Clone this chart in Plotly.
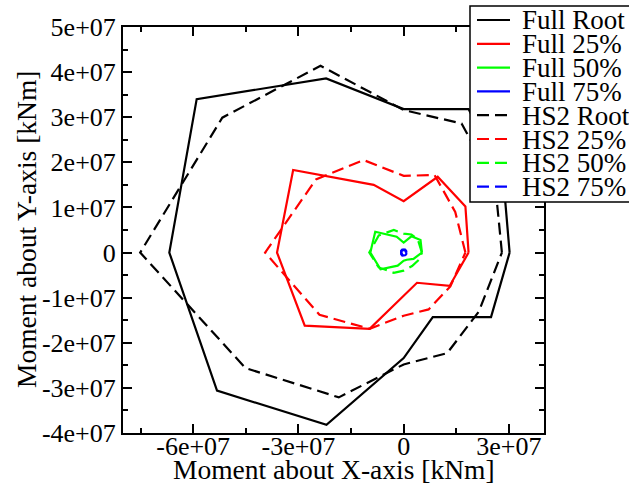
import plotly.graph_objects as go

# Bending-moment envelopes (kNm) at 12 load directions, 0° to 330° in 30° steps
full_root_x = [3.02e7, 2.84e7, 1.85e7, 0.0, -2.21e7, -5.90e7, -6.68e7, -5.32e7, -2.20e7, 0.0, 0.83e7, 2.49e7]
full_root_y = [0.0, 1.64e7, 3.18e7, 3.18e7, 3.86e7, 3.40e7, 0.0, -3.06e7, -3.82e7, -2.34e7, -1.43e7, -1.43e7]

full_25_x = [1.85e7, 1.76e7, 0.97e7, 0.0, -0.855e7, -3.15e7, -3.61e7, -2.82e7, -0.97e7, 0.0, 0.38e7, 1.31e7]
full_25_y = [0.0, 1.02e7, 1.68e7, 1.14e7, 1.50e7, 1.83e7, 0.0, -1.62e7, -1.69e7, -0.97e7, -0.67e7, -0.74e7]

full_50_x = [0.52e7, 0.48e7, 0.22e7, 0.0, -0.20e7, -0.81e7, -0.95e7, -0.66e7, -0.17e7, 0.0, 0.09e7, 0.28e7]
full_50_y = [0.0, 0.28e7, 0.36e7, 0.22e7, 0.35e7, 0.46e7, 0.0, -0.37e7, -0.29e7, -0.18e7, -0.16e7, -0.14e7]

full_75_x = [0.80e6, 0.70e6, 0.40e6, 0.0, -0.40e6, -0.70e6, -0.80e6, -0.70e6, -0.40e6, 0.0, 0.40e6, 0.70e6]
full_75_y = [0.0, 0.40e6, 0.65e6, 0.70e6, 0.65e6, 0.40e6, 0.0, -0.40e6, -0.65e6, -0.65e6, -0.60e6, -0.40e6]

hs2_root_x = [2.80e7, 2.61e7, 1.65e7, 0.0, -2.37e7, -5.17e7, -7.51e7, -4.51e7, -1.85e7, 0.0, 1.24e7, 2.14e7]
hs2_root_y = [0.0, 1.50e7, 2.86e7, 3.16e7, 4.14e7, 2.99e7, 0.0, -2.56e7, -3.21e7, -2.48e7, -2.23e7, -1.31e7]

hs2_25_x = [1.76e7, 1.47e7, 0.88e7, 0.0, -1.14e7, -2.50e7, -3.95e7, -2.40e7, -0.97e7, 0.0, 0.71e7, 1.33e7]
hs2_25_y = [0.0, 0.90e7, 1.72e7, 1.70e7, 2.05e7, 1.62e7, 0.0, -1.38e7, -1.69e7, -1.40e7, -1.26e7, -0.75e7]

hs2_50_x = [0.52e7, 0.40e7, 0.22e7, 0.0, -0.28e7, -0.71e7, -0.98e7, -0.71e7, -0.28e7, 0.0, 0.24e7, 0.45e7]
hs2_50_y = [0.0, 0.30e7, 0.40e7, 0.42e7, 0.50e7, 0.38e7, 0.0, -0.33e7, -0.45e7, -0.40e7, -0.30e7, -0.15e7]

hs2_75_x = [0.70e6, 0.60e6, 0.35e6, 0.0, -0.35e6, -0.60e6, -0.70e6, -0.60e6, -0.35e6, 0.0, 0.35e6, 0.60e6]
hs2_75_y = [0.0, 0.35e6, 0.55e6, 0.60e6, 0.55e6, 0.35e6, 0.0, -0.35e6, -0.55e6, -0.60e6, -0.55e6, -0.35e6]

series_names = ["Full Root", "Full 25%", "Full 50%", "Full 75%",
                "HS2 Root", "HS2 25%", "HS2 50%", "HS2 75%"]
series_x = [full_root_x, full_25_x, full_50_x, full_75_x,
            hs2_root_x, hs2_25_x, hs2_50_x, hs2_75_x]
series_y = [full_root_y, full_25_y, full_50_y, full_75_y,
            hs2_root_y, hs2_25_y, hs2_50_y, hs2_75_y]
series_colors = ["#000000", "#ff0000", "#00ff00", "#0000ff"] * 2
series_dash = ["solid"] * 4 + ["12px,6px"] * 4

x_tickvals = [-6e7, -3e7, 0, 3e7]
x_ticktext = ["-6e+07", "-3e+07", "0", "3e+07"]
y_tickvals = [-4e7, -3e7, -2e7, -1e7, 0, 1e7, 2e7, 3e7, 4e7, 5e7]
y_ticktext = ["-4e+07", "-3e+07", "-2e+07", "-1e+07", "0",
              "1e+07", "2e+07", "3e+07", "4e+07", "5e+07"]
x_title = "Moment about X-axis [kNm]"
y_title = "Moment about Y-axis [kNm]"

FONT = "Liberation Serif, Times New Roman, serif"
W, H = 629, 486
PL, PR, PT, PB = 123, 544, 27, 433   # plot-area edges in pixels


def px(x):
    return (x - PL) / (PR - PL)


def py(y):
    return (PB - y) / (PB - PT)


fig = go.Figure()
for name, xs, ys, col, dash in zip(series_names, series_x, series_y,
                                   series_colors, series_dash):
    fig.add_trace(go.Scatter(
        x=xs + xs[:1], y=ys + ys[:1], mode="lines", name=name,
        line=dict(color=col, width=2.2, dash=dash), showlegend=False))

axis_common = dict(
    showline=True, linecolor="black", linewidth=2, mirror="ticks",
    ticks="inside", ticklen=9, tickwidth=1.5, tickcolor="black",
    showgrid=False, zeroline=False, automargin=False,
    tickfont=dict(family=FONT, size=26, color="black"),
)

fig.update_xaxes(
    range=[-8e7, 4e7], tickmode="array", tickvals=x_tickvals, ticktext=x_ticktext,
    ticklabelstandoff=-11,
    minor=dict(tickmode="linear", tick0=0, dtick=1.5e7, ticks="inside",
               ticklen=5, tickwidth=1.5, tickcolor="black"),
    **axis_common)
fig.update_yaxes(
    range=[-4e7, 5e7], tickmode="array", tickvals=y_tickvals, ticktext=y_ticktext,
    minor=dict(tickmode="linear", tick0=0, dtick=5e6, ticks="inside",
               ticklen=5, tickwidth=1.5, tickcolor="black"),
    **axis_common)

title_font = dict(family=FONT, size=27.5, color="black")
annotations = [
    dict(text=x_title, xref="paper", yref="paper", x=0.5, y=py(469),
         xanchor="center", yanchor="middle", showarrow=False, font=title_font),
    dict(text=y_title, xref="paper", yref="paper", x=px(26), y=0.5, textangle=-90,
         xanchor="center", yanchor="middle", showarrow=False, font=title_font),
]

# Boxed legend drawn over the upper-right corner of the frame
ROW = 23.8
shapes = [dict(type="rect", xref="paper", yref="paper",
               x0=px(470), x1=px(640), y0=py(202), y1=py(6),
               line=dict(color="black", width=1.5), fillcolor="white",
               layer="above")]
for i, (name, col, dash) in enumerate(zip(series_names, series_colors, series_dash)):
    yc = 20 + i * ROW
    shapes.append(dict(type="line", xref="paper", yref="paper",
                       x0=px(477), x1=px(510), y0=py(yc), y1=py(yc),
                       line=dict(color=col, width=2.2, dash=dash), layer="above"))
    annotations.append(dict(text=name, xref="paper", yref="paper",
                            x=px(520), y=py(yc + 1), xanchor="left", yanchor="middle",
                            height=ROW - 1, valign="middle", showarrow=False,
                            font=dict(family=FONT, size=27, color="black")))

fig.update_layout(
    width=W, height=H, autosize=False,
    margin=dict(l=PL, r=W - PR, t=PT, b=H - PB, pad=0, autoexpand=False),
    paper_bgcolor="white", plot_bgcolor="white",
    shapes=shapes, annotations=annotations, showlegend=False,
)

fig.write_html("out.html")
